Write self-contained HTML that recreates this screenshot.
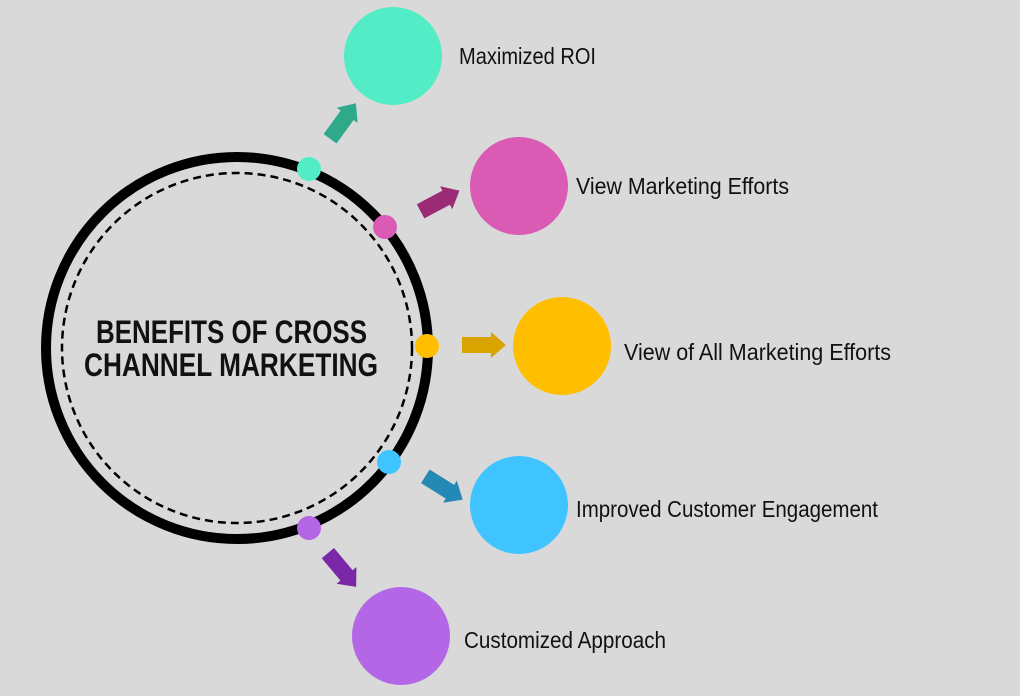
<!DOCTYPE html>
<html><head><meta charset="utf-8"><style>html,body{margin:0;padding:0;background:#d9d9d9;}svg{display:block}</style></head>
<body>
<svg width="1020" height="696" viewBox="0 0 1020 696" xmlns="http://www.w3.org/2000/svg">
<rect width="1020" height="696" fill="#d9d9d9"/>
<circle cx="237" cy="348" r="191" fill="none" stroke="#000" stroke-width="10"/>
<circle cx="237" cy="348" r="175" fill="none" stroke="#000" stroke-width="2.5" stroke-dasharray="8,5"/>
<g font-family="Liberation Sans, sans-serif" font-weight="bold" font-size="32" fill="#111">
<text x="96" y="343" textLength="271" lengthAdjust="spacingAndGlyphs">BENEFITS OF CROSS</text>
<text x="84" y="376" textLength="294" lengthAdjust="spacingAndGlyphs">CHANNEL MARKETING</text>
</g>
<circle cx="309" cy="169" r="12" fill="#52EDC7"/>
<circle cx="385" cy="227" r="12" fill="#D95BB4"/>
<circle cx="427" cy="346" r="12" fill="#FFBF00"/>
<circle cx="389" cy="462" r="12" fill="#40C4FF"/>
<circle cx="309" cy="528" r="12" fill="#B366E6"/>
<circle cx="393" cy="56" r="49" fill="#52EDC7"/>
<circle cx="519" cy="186" r="49" fill="#D95BB4"/>
<circle cx="562" cy="346" r="49" fill="#FFBF00"/>
<circle cx="519" cy="505" r="49" fill="#40C4FF"/>
<circle cx="401" cy="636" r="49" fill="#B366E6"/>
<defs><polygon id="ar" points="-22,-8 7,-8 7,-13 22,0 7,13 7,8 -22,8" stroke-linejoin="round"/></defs>
<use href="#ar" fill="#2EAA8A" transform="translate(343,121) rotate(-54)"/>
<use href="#ar" fill="#9B2A77" transform="translate(440,201) rotate(-28)"/>
<use href="#ar" fill="#D9A300" transform="translate(484,345)"/>
<use href="#ar" fill="#2589B5" transform="translate(444,488) rotate(32)"/>
<use href="#ar" fill="#7A28A8" transform="translate(342,570) rotate(50)"/>
<g font-family="Liberation Sans, sans-serif" font-size="23" fill="#111">
<text x="459" y="64" textLength="137" lengthAdjust="spacingAndGlyphs">Maximized ROI</text>
<text x="576" y="194" textLength="213" lengthAdjust="spacingAndGlyphs">View Marketing Efforts</text>
<text x="624" y="360" textLength="267" lengthAdjust="spacingAndGlyphs">View of All Marketing Efforts</text>
<text x="576" y="517" textLength="302" lengthAdjust="spacingAndGlyphs">Improved Customer Engagement</text>
<text x="464" y="648" textLength="202" lengthAdjust="spacingAndGlyphs">Customized Approach</text>
</g>
</svg>
</body></html>
